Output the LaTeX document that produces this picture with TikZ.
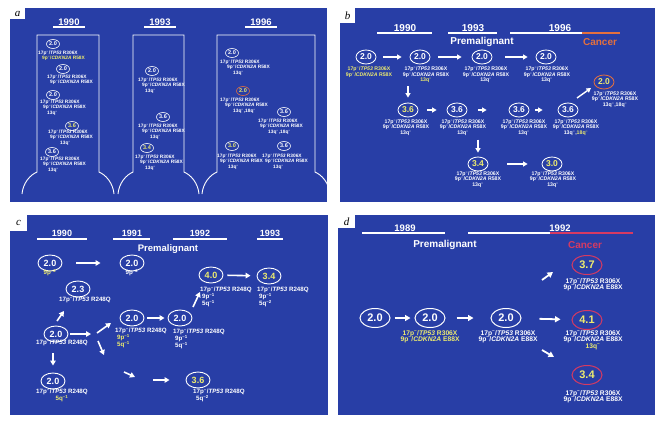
\documentclass[tikz,border=0pt]{standalone}
\usepackage{fontspec}
\setmainfont{Liberation Sans}
\newfontfamily\letterfont{Liberation Serif}
\usetikzlibrary{shapes.geometric,arrows.meta}

\definecolor{slide}{RGB}{40,62,166}
\definecolor{yel}{RGB}{238,236,110}
\definecolor{ora}{RGB}{228,112,62}
\definecolor{rose}{RGB}{214,58,98}

\newcommand{\hl}[1]{\textcolor{yel}{#1}}
\newcommand{\tpl}[1]{17p\textsuperscript{--}/\textit{TP53} #1}
\newcommand{\cdl}[1]{9p\textsuperscript{--}/\textit{CDKN2A} #1}
\newcommand{\arm}[2]{#1\textsuperscript{--#2}}
\newcommand{\tightlines}{\lineskiplimit=-5pt\relax}

\tikzset{
  panel/.style={fill=slide},
  tag/.style={fill=white, inner sep=0pt, font=\letterfont\itshape\fontsize{11}{11}\selectfont},
  yr/.style={text=white, font=\bfseries\fontsize{9.5}{9.5}\selectfont},
  uline/.style={white, line width=1.1pt},
  head/.style={text=white, font=\bfseries\fontsize{10}{10}\selectfont},
  flask/.style={white, line width=0.9pt},
  num/.style={ellipse, draw=white, inner sep=0pt, text=white},
  numa/.style={num, line width=0.6pt, minimum width=13pt, minimum height=9pt, font=\bfseries\fontsize{5.5}{5.5}\selectfont},
  numb/.style={num, line width=0.8pt, minimum width=20pt, minimum height=14pt, font=\bfseries\fontsize{8.5}{8.5}\selectfont},
  numc/.style={num, line width=0.9pt, minimum width=24pt, minimum height=16pt, font=\bfseries\fontsize{9}{9}\selectfont},
  numd/.style={num, line width=1pt, minimum width=30pt, minimum height=19pt, font=\bfseries\fontsize{11}{11}\selectfont},
  hot/.style={text=yel},
  laba/.style={text=white, inner sep=0pt, anchor=north west, align=left, font=\bfseries\fontsize{4.8}{5.6}\selectfont\tightlines},
  labb/.style={text=white, inner sep=0pt, anchor=north, align=center, font=\bfseries\fontsize{5.2}{5.4}\selectfont\tightlines},
  labc/.style={text=white, inner sep=0pt, anchor=north west, align=left, font=\bfseries\fontsize{6.2}{7}\selectfont\tightlines},
  labd/.style={text=white, inner sep=0pt, anchor=north, align=center, font=\bfseries\fontsize{6.7}{6.7}\selectfont\tightlines},
  arrb/.style={white, line width=1.4pt, -{Triangle[length=4.5pt,width=5pt]}},
  arrc/.style={white, line width=1.6pt, -{Triangle[length=5pt,width=5.5pt]}},
  arrd/.style={white, line width=1.8pt, -{Triangle[length=5.5pt,width=6pt]}},
}

\begin{document}
\begin{tikzpicture}[x=1pt,y=-1pt]
    \useasboundingbox (0,0) rectangle (664,423);

    % ---------------- Panel a ----------------
    \fill[panel] (10,8) rectangle (327,202);
    \node[tag, minimum width=15pt, minimum height=11pt] (taga) at (17.5,13.5) {a};

    % Years
    \node[yr] (ya1) at (69,22) {1990};
    \node[yr] (ya2) at (160,22) {1993};
    \node[yr] (ya3) at (261,22) {1996};
    \draw[uline] (53,27) -- (85,27);
    \draw[uline] (144,27) -- (176,27);
    \draw[uline] (245,27) -- (277,27);

    % Flasks
    \foreach \l/\r in {37/99,133/184,217/315} {
        \draw[flask] (\l-15,194) .. controls (\l-14,183) and (\l-7,175) .. (\l,172)
            -- (\l,35) -- (\r,35) -- (\r,172)
            .. controls (\r+7,175) and (\r+14,183) .. (\r+15,194);
    }

    % 1990
    \node[numa] (a1) at (53,44) {2.0};
    \node[laba] (a1l) at (38,50.5) {\tpl{R306X}\\\hspace*{4pt}\hl{\cdl{R58X}}};
    \node[numa] (a2) at (63,69) {2.0};
    \node[laba] (a2l) at (47,74.5) {\tpl{R306X}\\\hspace*{3pt}\cdl{R58X}};
    \node[numa] (a3) at (53,95) {2.0};
    \node[laba] (a3l) at (40,99.5) {\tpl{R306X}\\\hspace*{3pt}\cdl{R58X}\\\hspace*{7pt}\arm{13q}{}};
    \node[numa, hot] (a4) at (72,126) {3.6};
    \node[laba] (a4l) at (48,129.5) {\tpl{R306X}\\\hspace*{2pt}\cdl{R58X}\\\hspace*{12pt}\arm{13q}{}};
    \node[numa] (a5) at (52,152) {3.6};
    \node[laba] (a5l) at (40,156.5) {\tpl{R306X}\\\hspace*{3pt}\cdl{R58X}\\\hspace*{8pt}\arm{13q}{}};

    % 1993
    \node[numa] (a6) at (152,71) {2.0};
    \node[laba] (a6l) at (138,77.5) {\tpl{R306X}\\\hspace*{4pt}\cdl{R58X}\\\hspace*{7pt}\arm{13q}{}};
    \node[numa] (a7) at (163,117) {3.6};
    \node[laba] (a7l) at (138,123.5) {\tpl{R306X}\\\hspace*{4pt}\cdl{R58X}\\\hspace*{12pt}\arm{13q}{}};
    \node[numa, hot] (a8) at (147,148) {3.4};
    \node[laba] (a8l) at (135,154.5) {\tpl{R306X}\\\hspace*{5pt}\cdl{R58X}\\\hspace*{10pt}\arm{13q}{}};

    % 1996
    \node[numa] (a9) at (232,53) {2.0};
    \node[laba] (a9l) at (220,59.5) {\tpl{R306X}\\\hspace*{7pt}\cdl{R58X}\\\hspace*{13pt}\arm{13q}{}};
    \node[numa, hot, draw=ora] (a10) at (243,91) {2.0};
    \node[laba] (a10l) at (220,97.5) {\tpl{R306X}\\\hspace*{5pt}\cdl{R58X}\\\hspace*{13pt}\arm{13q}{},\arm{18q}{}};
    \node[numa] (a11) at (284,112) {3.6};
    \node[laba] (a11l) at (258,118.5) {\tpl{R306X}\\\hspace*{2pt}\cdl{R58X}\\\hspace*{10pt}\arm{13q}{},\arm{18q}{}};
    \node[numa, hot] (a12) at (232,146) {3.0};
    \node[laba] (a12l) at (217,153.5) {\tpl{R306X}\\\hspace*{3pt}\cdl{R58X}\\\hspace*{11pt}\arm{13q}{}};
    \node[numa] (a13) at (284,146) {3.6};
    \node[laba] (a13l) at (262,153.5) {\tpl{R306X}\\\hspace*{3pt}\cdl{R58X}\\\hspace*{11pt}\arm{13q}{}};

    % ---------------- Panel b ----------------
    \fill[panel] (340,8) rectangle (655,202);
    \node[tag, minimum width=15pt, minimum height=15pt] (tagb) at (347.5,15.5) {b};

    % Years
    \node[yr, font=\bfseries\fontsize{10}{10}\selectfont] (yb1) at (405,28.5) {1990};
    \node[yr, font=\bfseries\fontsize{10}{10}\selectfont] (yb2) at (473,28.5) {1993};
    \node[yr, font=\bfseries\fontsize{10}{10}\selectfont] (yb3) at (560,28.5) {1996};
    \draw[uline] (377,33) -- (432,33);
    \draw[uline] (448,33) -- (497,33);
    \draw[uline] (510,33) -- (582,33);
    \draw[uline, ora] (582,33) -- (620,33);
    \node[head] (premb) at (482,42) {Premalignant};
    \node[head, text=ora] (cancb) at (600,42) {Cancer};

    % Row 1
    \node[numb] (b1) at (366,57) {2.0};
    \node[numb] (b2) at (420,57) {2.0};
    \node[numb] (b3) at (482,57) {2.0};
    \node[numb] (b4) at (546,57) {2.0};
    \node[labb] (b1l) at (369,67) {\hl{\tpl{R306X}}\\\hl{\cdl{R58X}}};
    \node[labb] (b2l) at (426,67) {\tpl{R306X}\\\cdl{R58X}\\\hl{\arm{13q}{}}};
    \node[labb] (b3l) at (486,67) {\tpl{R306X}\\\cdl{R58X}\\\arm{13q}{}};
    \node[labb] (b4l) at (547,67) {\tpl{R306X}\\\cdl{R58X}\\\arm{13q}{}};

    % Row 2
    \node[numb, hot] (b5) at (408,110) {3.6};
    \node[numb] (b6) at (457,110) {3.6};
    \node[numb] (b7) at (519,110) {3.6};
    \node[numb] (b8) at (568,110) {3.6};
    \node[labb] (b5l) at (406,119.5) {\tpl{R306X}\\\cdl{R58X}\\\arm{13q}{}};
    \node[labb] (b6l) at (463,119.5) {\tpl{R306X}\\\cdl{R58X}\\\arm{13q}{}};
    \node[labb] (b7l) at (524,119.5) {\tpl{R306X}\\\cdl{R58X}\\\arm{13q}{}};
    \node[labb] (b8l) at (576,119.5) {\tpl{R306X}\\\cdl{R58X}\\\arm{13q}{},\hl{\arm{18q}{}}};

    % Cancer
    \node[numb, hot, draw=ora] (b9) at (604,82) {2.0};
    \node[labb] (b9l) at (615,91.5) {\tpl{R306X}\\\cdl{R58X}\\\arm{13q}{},\arm{18q}{}};

    % Row 3
    \node[numb, hot] (b10) at (478,164) {3.4};
    \node[numb, hot] (b11) at (552,164) {3.0};
    \node[labb] (b10l) at (478,171.5) {\tpl{R306X}\\\cdl{R58X}\\\arm{13q}{}};
    \node[labb] (b11l) at (553,171.5) {\tpl{R306X}\\\cdl{R58X}\\\arm{13q}{}};

    % Arrows
    \draw[arrb, shorten <=7pt, shorten >=8pt] (b1) -- (b2);
    \draw[arrb, shorten <=8pt, shorten >=10pt] (b2) -- (b3);
    \draw[arrb, shorten <=13pt, shorten >=8pt] (b3) -- (b4);
    \draw[arrb, shorten <=3pt, shorten >=5pt] (b5 |- b2l.south) -- (b5.north);
    \draw[arrb, shorten <=9pt, shorten >=10pt] (b5) -- (b6);
    \draw[arrb, shorten <=11pt, shorten >=22pt] (b6) -- (b7);
    \draw[arrb, shorten <=6pt, shorten >=15pt] (b7) -- (b8);
    \coordinate (b8a) at (577,98);
    \coordinate (b9a) at (591,88);
    \draw[arrb] (b8a) -- (b9a);
    \draw[arrb, shorten <=4pt, shorten >=4pt] (b10 |- b6l.south) -- (b10.north);
    \draw[arrb, shorten <=19pt, shorten >=14pt] (b10) -- (b11);

    % ---------------- Panel c ----------------
    \fill[panel] (10,215) rectangle (328,415);
    \node[tag, minimum width=17pt, minimum height=16pt] (tagc) at (18.5,223) {c};

    % Years
    \node[yr, font=\bfseries\fontsize{9}{9}\selectfont] (yc1) at (62,233.5) {1990};
    \node[yr, font=\bfseries\fontsize{9}{9}\selectfont] (yc2) at (132,233.5) {1991};
    \node[yr, font=\bfseries\fontsize{9}{9}\selectfont] (yc3) at (200,233.5) {1992};
    \node[yr, font=\bfseries\fontsize{9}{9}\selectfont] (yc4) at (270,233.5) {1993};
    \draw[uline] (37,239) -- (87,239);
    \draw[uline] (113,239) -- (150,239);
    \draw[uline] (173,239) -- (227,239);
    \draw[uline] (257,239) -- (283,239);
    \node[head, font=\bfseries\fontsize{9.5}{9.5}\selectfont] (premc) at (168,249) {Premalignant};

    % Nodes
    \node[numc] (c1) at (50,263) {2.0};
    \node[labc, anchor=north] (c1l) at (50,269) {\hl{\arm{9p}{2}}};
    \node[numc] (c2) at (132,263) {2.0};
    \node[labc, anchor=north] (c2l) at (132,269) {\arm{9p}{2}};
    \node[numc] (c3) at (78,289) {2.3};
    \node[labc, anchor=north] (c3l) at (85,297) {\tpl{R248Q}};
    \node[numc] (c4) at (56,334) {2.0};
    \node[labc, anchor=north] (c4l) at (62,340) {\tpl{R248Q}};
    \node[numc] (c5) at (53,381) {2.0};
    \node[labc, anchor=north, align=center] (c5l) at (62,389) {\tpl{R248Q}\\\hl{\arm{5q}{1}}};
    \node[numc] (c6) at (132,318) {2.0};
    \node[labc] (c6l) at (115,328) {\tpl{R248Q}\\\hspace*{2pt}\hl{\arm{9p}{1}}\\\hspace*{2pt}\hl{\arm{5q}{1}}};
    \node[numc] (c7) at (180,318) {2.0};
    \node[labc] (c7l) at (173,329) {\tpl{R248Q}\\\hspace*{2pt}\arm{9p}{1}\\\hspace*{2pt}\arm{5q}{1}};
    \node[numc, hot] (c8) at (211,275) {4.0};
    \node[labc] (c8l) at (200,287) {\tpl{R248Q}\\\hspace*{2pt}\arm{9p}{1}\\\hspace*{2pt}\arm{5q}{1}};
    \node[numc, hot] (c9) at (269,276) {3.4};
    \node[labc] (c9l) at (257,287) {\tpl{R248Q}\\\hspace*{2pt}\arm{9p}{1}\\\hspace*{2pt}\arm{5q}{2}};
    \node[numc, hot] (c10) at (198,380) {3.6};
    \node[labc] (c10l) at (193,389) {\tpl{R248Q}\\\hspace*{3pt}\arm{5q}{2}};

    % Arrows
    \draw[arrc, shorten <=14pt, shorten >=19pt] (c1) -- (c2);
    \coordinate (c4a) at (57,321);
    \coordinate (c3a) at (64,311);
    \draw[arrc] (c4a) -- (c3a);
    \coordinate (cfork) at (91,334);
    \draw[arrc, shorten <=2pt] (c4) -- (cfork);
    \coordinate (cup1) at (97,333);
    \coordinate (cup2) at (111,323);
    \draw[arrc] (cup1) -- (cup2);
    \coordinate (cdn1) at (98,341);
    \coordinate (cdn2) at (104,355);
    \draw[arrc] (cdn1) -- (cdn2);
    \draw[arrc, shorten <=7pt, shorten >=7pt] (c5 |- c4l.south) -- (c5.north);
    \draw[arrc, shorten <=3pt, shorten >=3pt] (c6) -- (c7);
    \coordinate (c7a) at (193,307);
    \coordinate (c8a) at (200,292);
    \draw[arrc] (c7a) -- (c8a);
    \draw[arrc, shorten <=4pt, shorten >=6pt] (c8) -- (c9);
    \coordinate (clo1) at (124,372);
    \coordinate (clo2) at (135,377);
    \draw[arrc] (clo1) -- (clo2);
    \coordinate (clo3) at (153,380);
    \draw[arrc, shorten >=16pt] (clo3) -- (c10);

    % ---------------- Panel d ----------------
    \fill[panel] (338,215) rectangle (655,415);
    \node[tag, minimum width=17pt, minimum height=13pt] (tagd) at (346.5,221.5) {d};

    % Years
    \node[yr] (yd1) at (405,228) {1989};
    \node[yr] (yd2) at (560,228) {1992};
    \draw[uline] (362,233) -- (445,233);
    \draw[uline] (468,233) -- (550,233);
    \draw[uline, rose] (550,233) -- (633,233);
    \node[head] (premd) at (445,245) {Premalignant};
    \node[head, text=rose] (cancd) at (585,245) {Cancer};

    % Nodes
    \node[numd] (d1) at (375,318) {2.0};
    \node[numd] (d2) at (430,318) {2.0};
    \node[numd] (d3) at (506,318) {2.0};
    \node[numd, hot, draw=rose] (d4) at (587,265) {3.7};
    \node[numd, hot, draw=rose] (d5) at (587,320) {4.1};
    \node[numd, hot, draw=rose] (d6) at (587,375) {3.4};
    \node[labd] (d2l) at (430,330) {\hl{\tpl{R306X}}\\\hl{\cdl{E88X}}};
    \node[labd] (d3l) at (508,330) {\tpl{R306X}\\\cdl{E88X}};
    \node[labd] (d4l) at (593,278) {\tpl{R306X}\\\cdl{E88X}};
    \node[labd] (d5l) at (593,330) {\tpl{R306X}\\\cdl{E88X}\\\hl{\arm{13q}{}}};
    \node[labd] (d6l) at (593,390) {\tpl{R306X}\\\cdl{E88X}};

    % Arrows
    \draw[arrd, shorten <=4pt, shorten >=4pt] (d1) -- (d2);
    \draw[arrd, shorten <=11pt, shorten >=17pt] (d2) -- (d3);
    \draw[arrd, shorten <=18pt, shorten >=11pt] (d3) -- (d5);
    \coordinate (d3u) at (542,280);
    \coordinate (d4a) at (553,272);
    \draw[arrd] (d3u) -- (d4a);
    \coordinate (d3d) at (542,350);
    \coordinate (d6a) at (554,357);
    \draw[arrd] (d3d) -- (d6a);
\end{tikzpicture}
\end{document}
